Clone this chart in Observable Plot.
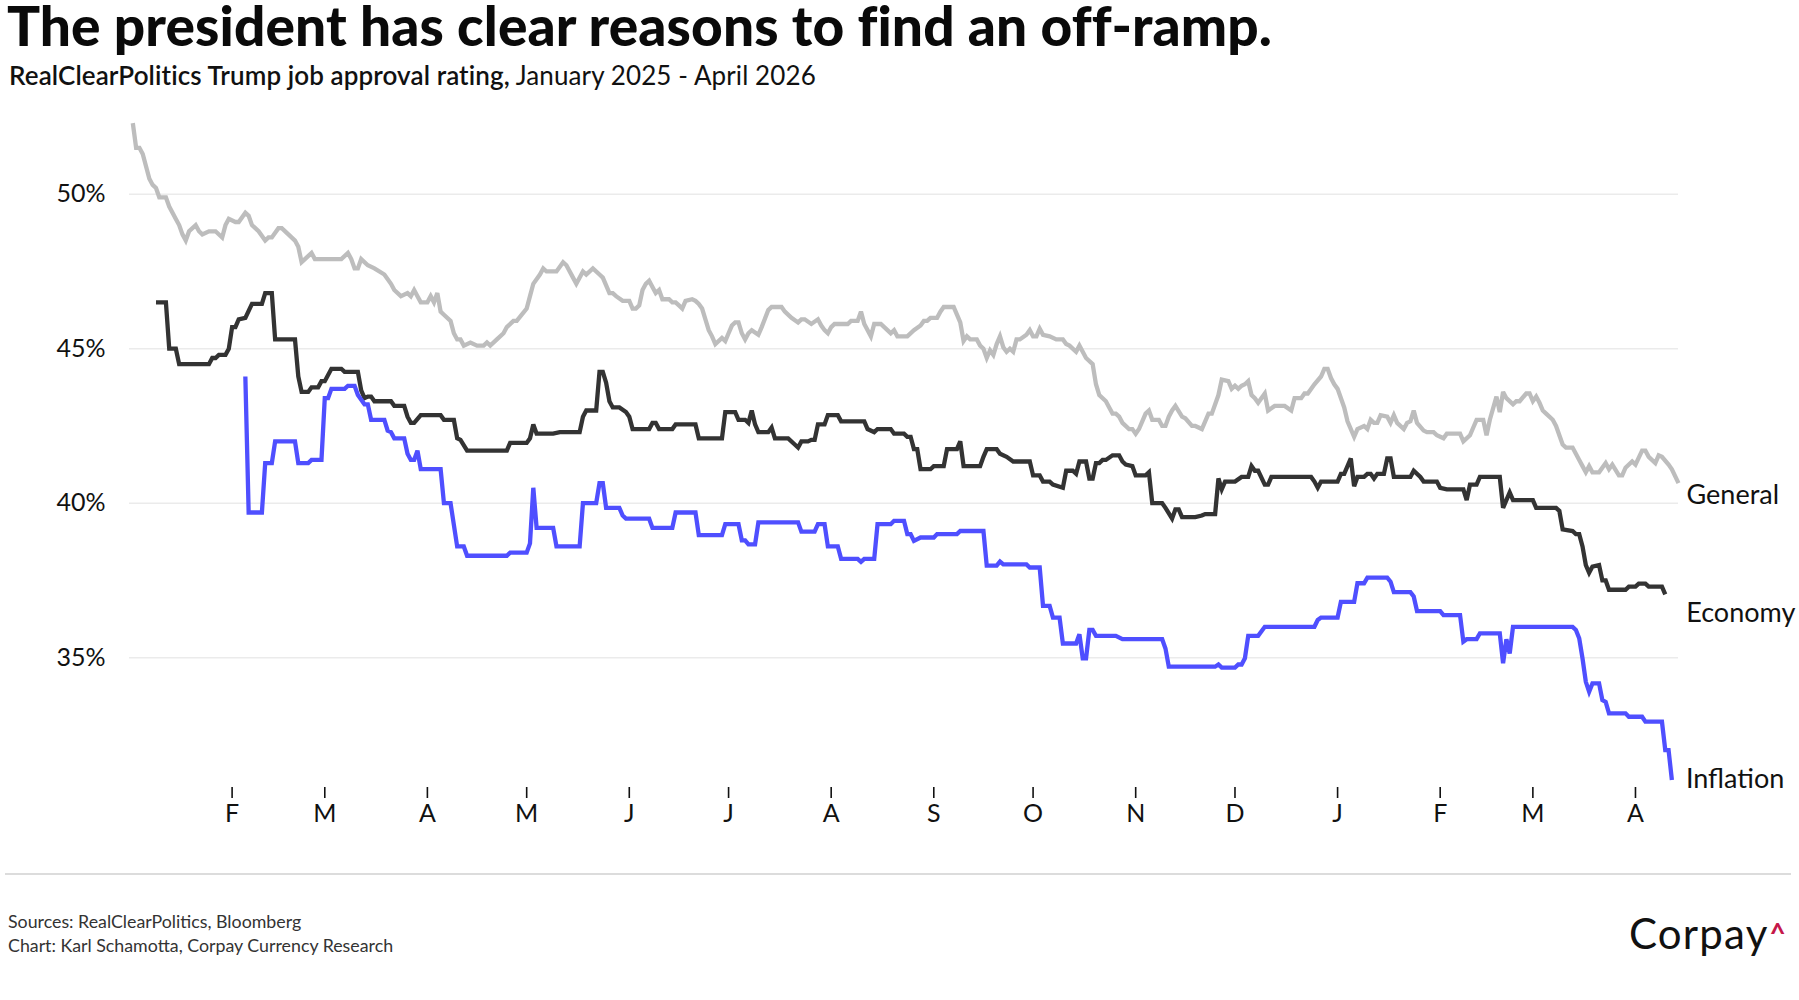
<!DOCTYPE html>
<html><head><meta charset="utf-8">
<script src="https://cdn.jsdelivr.net/npm/d3@7"></script>
<script src="https://cdn.jsdelivr.net/npm/@observablehq/plot@0.6"></script>
<style>
body{margin:0;background:#fff;font-family:Lato,"Noto Sans",sans-serif;color:#111;}
#page{position:relative;width:1799px;height:1000px;background:#fff;}
#title{position:absolute;left:7px;top:1px;font-size:55px;line-height:0.9;font-weight:900;white-space:nowrap;color:#0a0a0a;letter-spacing:0.1px;}
#subtitle{position:absolute;left:9px;top:62px;font-size:26px;line-height:1;white-space:nowrap;color:#111;letter-spacing:0.1px;}
#subtitle b{font-weight:600;}
#chart{position:absolute;left:0;top:100px;}
#rule{position:absolute;left:5px;top:873px;width:1786px;height:2px;background:#dcdcdc;}
#caption{position:absolute;left:8px;top:910px;font-size:17.8px;line-height:23.5px;color:#333;}
#logo{position:absolute;left:1629px;top:912px;font-size:42px;line-height:1;color:#111;white-space:nowrap;letter-spacing:1.2px;}
#logo span{color:#c5174a;font-size:28px;font-weight:700;vertical-align:baseline;position:relative;top:-5px;margin-left:1px;}
</style></head>
<body>
<div id="page">
  <div id="title">The president has clear reasons to find an off-ramp.</div>
  <div id="subtitle"><b>RealClearPolitics Trump job approval rating,</b> January 2025 - April 2026</div>
  <div id="chart"></div>
  <div id="rule"></div>
  <div id="caption">Sources: RealClearPolitics, Bloomberg<br>Chart: Karl Schamotta, Corpay Currency Research</div>
  <div id="logo">Corpay<span>^</span></div>
</div>
<script>
// Values: [days after 2025-01-01, approval %]
const generalByDay = [[1,52.3],[2,51.5],[3,51.5],[4,51.3],[6,50.5],[7,50.3],[8,50.2],[9,49.9],[11,49.9],[12,49.6],[14,49.2],[15,49.0],[16,48.7],[17,48.5],[18,48.8],[20,49.0],[21,48.8],[22,48.7],[24,48.8],[26,48.8],[28,48.6],[29,49.0],[30,49.2],[32,49.1],[33,49.1],[35,49.4],[36,49.3],[37,49.0],[39,48.8],[41,48.5],[42,48.6],[43,48.6],[45,48.9],[46,48.9],[48,48.7],[50,48.5],[51,48.3],[52,47.8],[53,47.9],[55,48.1],[56,47.9],[64,47.9],[66,48.1],[67,47.9],[68,47.6],[69,47.6],[70,47.9],[72,47.7],[74,47.6],[77,47.4],[79,47.1],[80,46.9],[82,46.7],[84,46.8],[85,46.7],[86,46.9],[87,46.7],[88,46.5],[90,46.5],[91,46.7],[92,46.5],[93,46.8],[94,46.2],[95,46.1],[97,45.9],[98,45.5],[99,45.3],[100,45.3],[101,45.1],[103,45.2],[105,45.1],[107,45.1],[108,45.2],[109,45.1],[111,45.3],[113,45.5],[114,45.7],[116,45.9],[117,45.9],[120,46.3],[121,46.7],[122,47.1],[124,47.4],[125,47.6],[126,47.5],[129,47.5],[131,47.8],[132,47.7],[134,47.3],[135,47.1],[137,47.5],[138,47.4],[140,47.6],[142,47.4],
[143,47.3],[145,46.8],[146,46.8],[147,46.7],[149,46.55],[151,46.55],[152,46.3],[153,46.3],[154,46.4],[155,46.9],[156,47.1],[157,47.2],[158,47.0],[159,46.8],[160,46.9],[161,46.6],[163,46.6],[164,46.5],[165,46.5],[166,46.4],[167,46.3],[168,46.55],[170,46.6],[171,46.55],[172,46.45],[173,46.3],[174,45.95],[175,45.6],[176,45.4],[177,45.15],[179,45.35],[180,45.25],[181,45.5],[182,45.75],[183,45.85],[184,45.85],[185,45.5],[186,45.3],[187,45.5],[188,45.6],[190,45.45],[191,45.7],[193,46.25],[194,46.35],[197,46.35],[198,46.2],[200,46.0],[202,45.85],[203,45.95],[204,45.95],[206,45.8],[208,45.95],[209,45.75],[210,45.6],[211,45.5],[212,45.7],[213,45.8],[217,45.8],[218,45.9],[220,45.9],[221,46.2],[222,45.8],[224,45.4],[225,45.8],[227,45.8],[229,45.6],[230,45.5],[231,45.6],[232,45.4],[235,45.4],[237,45.6],[239,45.75],[240,45.9],[241,45.9],[242,46.0],[244,46.0],[245,46.2],[246,46.35],[249,46.35],[250,46.1],[251,45.85],[252,45.25],[253,45.4],[254,45.3],[256,45.3],[257,45.1],[258,45.0],[259,44.7],[260,44.95],[261,44.8],[262,45.15],[263,45.4],[264,45.05],[265,44.9],[266,45.0],[267,44.9],[268,45.3],[269,45.3],[271,45.45],[272,45.6],[273,45.4],[274,45.4],[275,45.65],[276,45.45],[278,45.4],[280,45.3],[282,45.3],[283,45.15],[284,45.1],[286,44.9],[287,45.1],[288,44.9],[289,44.7],[291,44.5],[292,43.85],[293,43.5],[295,43.3],[296,43.1],[297,42.9],[298,42.9],[299,42.8],[300,42.6],[302,42.4],[303,42.4],[304,42.25],[305,42.4],[307,42.9],[308,43.0],[309,42.7],[311,42.7],[312,42.5],[313,42.5],[314,42.8],[315,43.0],[316,43.15],[318,42.8],[319,42.75],[321,42.5],[322,42.5],
[324,42.4],[326,42.9],[327,42.9],[329,43.5],[330,44.0],[332,43.95],[333,43.7],[334,43.8],[335,43.7],[336,43.8],[337,43.85],[338,43.95],[339,43.5],[340,43.4],[341,43.25],[343,43.55],[344,43.0],[346,43.15],[349,43.15],[351,43.0],[352,43.4],[354,43.4],[355,43.55],[356,43.55],[358,43.85],[360,44.1],[361,44.35],[362,44.35],[363,44.05],[364,43.85],[365,43.7],[367,43.1],[368,42.65],[370,42.15],[371,42.4],[373,42.5],[374,42.4],[375,42.7],[376,42.6],[377,42.6],[378,42.85],[380,42.8],[381,42.6],[382,42.85],[383,42.6],[385,42.4],[386,42.6],[387,42.65],[388,43.0],[389,42.6],[391,42.35],[392,42.3],[394,42.3],[395,42.2],[397,42.1],[398,42.25],[402,42.25],[403,42.0],[405,42.2],[406,42.45],[407,42.7],[409,42.7],[410,42.2],[411,42.7],[413,43.45],[414,42.95],[415,43.6],[416,43.4],[418,43.2],[419,43.3],[420,43.3],[422,43.55],[423,43.55],[424,43.3],[425,43.45],[426,43.25],[427,43.0],[428,42.9],[430,42.7],[431,42.5],[433,41.9],[434,41.8],[436,41.8],[437,41.6],[438,41.4],[439,41.2],[440,41.0],[441,41.2],[442,41.0],[444,41.0],[446,41.3],[447,41.1],[448,41.25],[450,40.9],[451,40.9],[452,41.15],[454,41.35],[455,41.25],[457,41.7],[458,41.7],[459,41.5],[461,41.3],[462,41.55],[463,41.5],[465,41.25],[466,41.1],[468,40.65]];

const economyByDay = [[8,46.5],[11,46.5],[12,45.0],[14,45.0],[15,44.5],[24,44.5],[25,44.7],[26,44.7],[27,44.8],[29,44.8],[30,45.0],[31,45.7],[32,45.7],[33,45.95],[35,46.0],[37,46.45],[40,46.45],[41,46.8],[43,46.8],[44,45.3],[50,45.3],[51,44.1],[52,43.6],[54,43.6],[55,43.75],[57,43.75],[58,43.95],[59,43.95],[61,44.35],[64,44.35],[65,44.25],[69,44.25],[70,43.65],[71,43.4],[72,43.45],[73,43.45],[74,43.3],[79,43.3],[80,43.15],[83,43.15],[84,42.8],[85,42.6],[86,42.6],[88,42.85],[94,42.85],[95,42.7],[98,42.7],[99,42.1],[100,42.05],[102,41.7],[114,41.7],[115,41.95],[120,41.95],[121,42.1],[122,42.55],[123,42.25],[128,42.25],[130,42.3],[136,42.3],[137,42.8],[138,43.0],[141,43.0],[142,44.25],
[143,44.25],[144,43.9],[145,43.3],[146,43.1],[148,43.1],[150,42.95],[151,42.8],[152,42.4],[157,42.4],[158,42.6],[159,42.6],[160,42.4],[164,42.4],[165,42.55],[171,42.55],[172,42.1],[179,42.1],[180,42.95],[183,42.95],[184,42.7],[186,42.7],[187,42.6],[188,43.0],[189,42.55],[190,42.3],[193,42.3],[194,42.45],[195,42.1],[199,42.1],[201,41.9],[202,41.8],[203,42.0],[205,42.0],[206,42.05],[207,42.05],[208,42.55],[210,42.55],[211,42.85],[214,42.85],[215,42.65],[222,42.65],[223,42.4],[225,42.3],[226,42.4],[230,42.4],[231,42.25],[234,42.25],[235,42.15],[236,42.15],[237,41.75],[238,41.75],[239,41.1],[242,41.1],[243,41.2],[246,41.2],[247,41.75],[250,41.75],[251,42.0],[252,41.2],[257,41.2],[258,41.5],[259,41.75],[262,41.75],[263,41.6],[265,41.5],[267,41.35],[272,41.35],[273,40.9],[275,40.9],[276,40.7],[278,40.7],[279,40.6],[282,40.5],[283,41.05],[285,41.05],[286,40.95],[287,41.35],[289,41.35],[290,40.8],[291,40.8],[292,41.3],[293,41.3],[294,41.4],[295,41.4],[297,41.55],[299,41.55],[300,41.35],[301,41.25],[303,41.2],[304,40.9],[307,40.9],[308,41.0],[309,40.0],[312,40.0],[313,39.85],[315,39.5],[316,39.8],[317,39.8],[318,39.55],[322,39.55],
[324,39.6],[325,39.65],[328,39.65],[329,40.8],[330,40.45],[331,40.7],[334,40.7],[336,40.85],[338,40.85],[339,41.2],[340,41.05],[341,41.05],[343,40.6],[344,40.6],[345,40.85],[357,40.85],[358,40.7],[359,40.5],[360,40.7],[365,40.7],[366,40.95],[367,40.95],[369,41.45],[370,40.55],[371,40.85],[373,40.85],[374,40.95],[375,40.95],[376,40.8],[377,40.95],[379,40.95],[380,41.45],[381,41.45],[382,40.85],[387,40.85],[388,41.05],[390,40.85],[391,40.7],[395,40.7],[396,40.5],[398,40.45],[403,40.45],[404,40.1],[405,40.6],[407,40.6],[408,40.85],[414,40.85],[415,39.85],[416,40.1],[417,40.35],[418,40.1],[424,40.1],[425,39.85],[431,39.85],[432,39.75],[433,39.15],[436,39.1],[437,39.0],[438,39.0],[439,38.6],[440,38.0],[441,37.75],[442,37.95],[444,38.0],[445,37.5],[446,37.5],[447,37.2],[452,37.2],[453,37.3],[455,37.3],[456,37.4],[458,37.4],[459,37.3],[463,37.3],[464,37.05]];

const inflationByDay = [[35,44.1],[36,39.7],[40,39.7],[41,41.3],[43,41.3],[44,42.0],[50,42.0],[51,41.3],[54,41.3],[55,41.4],[58,41.4],[59,43.4],[60,43.4],[61,43.7],[65,43.7],[66,43.8],[68,43.8],[69,43.5],[71,43.2],[72,43.2],[73,42.7],[77,42.7],[78,42.35],[79,42.3],[80,42.1],[83,42.1],[84,41.6],[85,41.4],[86,41.4],[87,41.7],[88,41.1],[94,41.1],[95,40.0],[97,40.0],[99,38.6],[101,38.6],[102,38.3],[114,38.3],[115,38.4],[120,38.4],[121,38.7],[122,40.5],[123,39.2],[128,39.2],[129,38.6],[136,38.6],[137,40.0],[141,40.0],
[142,40.65],[143,40.65],[144,39.85],[148,39.85],[149,39.6],[150,39.5],[157,39.5],[158,39.2],[164,39.2],[165,39.7],[171,39.7],[172,38.97],[179,38.97],[180,39.32],[184,39.32],[185,38.8],[186,38.8],[187,38.67],[189,38.67],[190,39.38],[202,39.38],[203,39.08],[207,39.08],[208,39.32],[210,39.32],[211,38.6],[214,38.6],[215,38.2],[220,38.2],[221,38.1],[222,38.2],[225,38.2],[226,39.32],[230,39.32],[231,39.43],[234,39.43],[235,39.0],[236,39.0],[237,38.78],[239,38.89],[243,38.89],[244,39.0],[250,39.0],[251,39.1],[258,39.1],[259,37.98],[262,37.98],[263,38.11],[264,38.02],[271,38.02],[272,37.92],[275,37.92],[276,36.68],[278,36.68],[279,36.3],[281,36.3],[282,35.46],[286,35.46],[287,35.76],[288,34.98],[289,34.98],[290,35.9],[291,35.9],[292,35.71],[298,35.71],[300,35.6],[312,35.6],[313,35.3],[314,34.71],[322,34.71],
[328,34.71],[329,34.78],[330,34.68],[334,34.68],[335,34.78],[336,34.78],[337,34.98],[338,35.71],[341,35.71],[343,36.0],[358,36.0],[359,36.22],[360,36.3],[365,36.3],[366,36.81],[370,36.81],[371,37.41],[373,37.41],[374,37.59],[380,37.59],[381,37.46],[382,37.12],[387,37.12],[388,36.98],[389,36.51],[396,36.51],[397,36.38],[402,36.38],[403,35.52],[404,35.6],[407,35.6],[408,35.79],[414,35.79],[415,34.82],[416,35.6],[417,35.14],[418,36.0],[436,36.0],[437,35.9],[438,35.63],[439,34.98],[440,34.22],[441,33.9],[442,34.17],[444,34.17],[445,33.63],[446,33.57],[447,33.2],[452,33.2],[453,33.09],[457,33.09],[458,32.93],[463,32.93],[464,32.01],[465,32.01],[466,31.04]];

const seriesNames = ["General", "Economy", "Inflation"];
const seriesColors = ["#bdbdbd", "#333333", "#4f4fff"];
const xDomain = ["2025-01-01", "2026-04-14"];
const xTickDates = ["2025-02-01","2025-03-01","2025-04-01","2025-05-01","2025-06-01","2025-07-01","2025-08-01","2025-09-01","2025-10-01","2025-11-01","2025-12-01","2026-01-01","2026-02-01","2026-03-01","2026-04-01"];
const monthLetters = ["J","F","M","A","M","J","J","A","S","O","N","D"];
const yTicks = [35, 40, 45, 50];

const origin = new Date(Date.UTC(2025, 0, 1));
const toRows = (name, pairs) => pairs.map(([day, value]) => ({name, date: d3.utcDay.offset(origin, day), value}));
const general = toRows(seriesNames[0], generalByDay);
const economy = toRows(seriesNames[1], economyByDay);
const inflation = toRows(seriesNames[2], inflationByDay);

const lineStyle = {x: "date", y: "value", strokeWidth: 4.3, strokeLinejoin: "miter", strokeMiterlimit: 3, strokeLinecap: "butt"};

const chart = Plot.plot({
  width: 1799, height: 760,
  marginLeft: 129, marginRight: 121, marginTop: 1, marginBottom: 73,
  x: {type: "utc", domain: xDomain.map(d => new Date(d))},
  y: {domain: [30.8, 53]},
  style: {fontFamily: "Lato, 'Noto Sans', sans-serif", fontSize: "25px", color: "#111", background: "transparent", overflow: "visible"},
  marks: [
    Plot.gridY(yTicks, {stroke: "#ebebeb", strokeOpacity: 1, strokeWidth: 1.5}),
    Plot.axisY(yTicks, {tickSize: 0, tickPadding: 24, tickFormat: d => d + "%", fontSize: 25, label: null}),
    Plot.axisX(xTickDates.map(d => new Date(d)), {tickSize: 11, tickPadding: 6, strokeWidth: 1.6, tickFormat: d => monthLetters[d.getUTCMonth()], fontSize: 25, label: null}),
    Plot.line(general, {...lineStyle, stroke: seriesColors[0]}),
    Plot.line(economy, {...lineStyle, stroke: seriesColors[1]}),
    Plot.line(inflation, {...lineStyle, stroke: seriesColors[2]}),
    Plot.text(general.slice(-1), {x: "date", y: "value", text: "name", textAnchor: "start", dx: 8, dy: 12, fontSize: 27, fill: "#111"}),
    Plot.text(economy.slice(-1), {x: "date", y: "value", text: "name", textAnchor: "start", dx: 21, dy: 19, fontSize: 27, fill: "#111"}),
    Plot.text(inflation.slice(-1), {x: "date", y: "value", text: "name", textAnchor: "start", dx: 14, dy: -1, fontSize: 27, fill: "#111"})
  ]
});
document.getElementById("chart").appendChild(chart);
</script>
</body></html>
